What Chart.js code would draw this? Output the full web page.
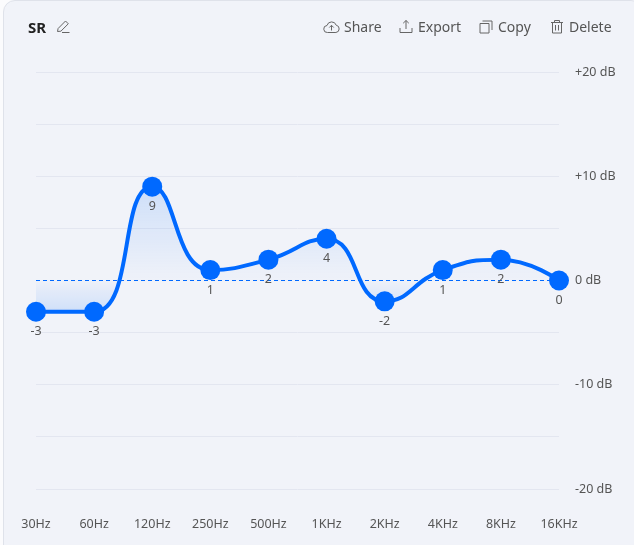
<!DOCTYPE html>
<html>
<head>
<meta charset="utf-8">
<title>SR</title>
<script src="https://cdn.jsdelivr.net/npm/chart.js@4"></script>
<style>
  html, body { margin: 0; padding: 0; background: #fbfbfd; overflow: hidden; }
  body { width: 634px; height: 545px; position: relative; font-family: "Noto Sans", sans-serif; }
  .card { position: absolute; left: 3px; top: 0; width: 640px; height: 560px; box-sizing: border-box;
          background: #f1f3f9; border: 1px solid #dfe2ea; border-radius: 12px; }
  canvas { position: absolute; left: 0; top: 0; }
  .title { position: absolute; left: 28px; top: 16px; font-size: 15px; line-height: 22px; font-weight: 700; color: #222; }
  .action { position: absolute; top: 16px; font-size: 14px; line-height: 22px; color: #555; white-space: nowrap; }
  svg { position: absolute; fill: none; stroke: #666; stroke-width: 1; }
</style>
</head>
<body>
<div class="card"></div>
<canvas id="eq-chart" width="634" height="545"></canvas>

<div class="title">SR</div>
<svg style="left:56px;top:19px" width="15" height="15" viewBox="0 0 15 15"><path d="M1.500 12.500l.6-3L9.500 2l2.800 2.800-7.400 7.400zM6 13.500h7.500"/></svg>

<svg style="left:323px;top:19px" width="17" height="15" viewBox="0 0 17 15"><path d="M4.500 13.500a3.500 3.500 0 0 1-.5-7 4.800 4.800 0 0 1 9.200-.3 3.700 3.700 0 0 1-.3 7.300zM8.500 11.500V6.500M6.300 8.500l2.200-2.200 2.200 2.200"/></svg>
<div class="action" style="left:344px">Share</div>

<svg style="left:399px;top:19px" width="14" height="15" viewBox="0 0 14 15"><path d="M7 10V1.500M4.200 4.200L7 1.500l2.800 2.700M1 9v4.500h12V9"/></svg>
<div class="action" style="left:418px">Export</div>

<svg style="left:479px;top:19px" width="14" height="15" viewBox="0 0 14 15"><path d="M1 4.500h9v9.500H1zM3.500 2h9.500v9"/></svg>
<div class="action" style="left:498px">Copy</div>

<svg style="left:550px;top:19px" width="14" height="15" viewBox="0 0 14 15"><path d="M1 3.500h12M4.500 3.500V1.500h5v2M2.500 3.500v10.500h9V3.500M5.500 6v5.500M8.500 6v5.500"/></svg>
<div class="action" style="left:569px">Delete</div>

<script>
// valores
const bands = ['30Hz', '60Hz', '120Hz', '250Hz', '500Hz', '1KHz', '2KHz', '4KHz', '8KHz', '16KHz'];
const gains = [-3, -3, 9, 1, 2, 4, -2, 1, 2, 0];
const dbLabels = { 20: '+20 dB', 10: '+10 dB', 0: '0 dB', '-10': '-10 dB', '-20': '-20 dB' };

const tickFont = { family: '"Noto Sans", sans-serif', size: 12.5 };
const blue = '#0069ff';
const smooth = 0.5;

function fillGradient(context) {
    const { chart } = context;
    const y = chart.scales.y;
    if (!chart.chartArea || !y) return 'transparent';
    const top = y.getPixelForValue(Math.max(...gains));
    const bottom = y.getPixelForValue(Math.min(...gains));
    const zero = y.getPixelForValue(0);
    if (!isFinite(top) || !isFinite(bottom)) return 'transparent';
    const stop = (zero - top) / (bottom - top);
    const gradient = chart.ctx.createLinearGradient(0, top, 0, bottom);
    gradient.addColorStop(0, 'rgba(0, 105, 255, 0.14)');
    gradient.addColorStop(stop * 0.9, 'rgba(0, 105, 255, 0.02)');
    gradient.addColorStop(stop, 'rgba(0, 105, 255, 0.01)');
    gradient.addColorStop(1, 'rgba(0, 105, 255, 0.14)');
    return gradient;
}

const clampTo = (v, a, b) => Math.max(Math.min(a, b), Math.min(v, Math.max(a, b)));

// la curva original tiene asas mas largas que 'monotone': se recalculan
// los puntos de control a partir de la posicion de cada punto
const curveShape = {
    id: 'curveShape',
    afterDatasetsUpdate(chart) {
        const meta = chart.getDatasetMeta(0);
        meta.dataset.updateControlPoints(chart.chartArea, 'x');
        const pts = meta.data;
        pts.forEach((p, i) => {
            const prev = pts[i - 1], next = pts[i + 1];
            if (!prev || !next) {
                p.cp1x = p.cp2x = p.x;
                p.cp1y = p.cp2y = p.y;
                return;
            }
            const lenPrev = Math.hypot(p.x - prev.x, p.y - prev.y);
            const lenNext = Math.hypot(next.x - p.x, next.y - p.y);
            const ratio = lenNext / (lenNext + lenPrev);
            const vx = next.x - prev.x, vy = next.y - prev.y;
            // salida, limitada al tramo siguiente
            let outX = clampTo(p.x + vx * smooth * ratio, p.x, next.x);
            let outY = clampTo(p.y + vy * smooth * ratio, p.y, next.y);
            // entrada, en la misma recta
            let inX = clampTo(p.x - (outX - p.x) * lenPrev / lenNext, prev.x, p.x);
            let inY = clampTo(p.y - (outY - p.y) * lenPrev / lenNext, prev.y, p.y);
            // se reajusta la salida por si la entrada quedo limitada
            outX = p.x + (p.x - inX) * lenNext / lenPrev;
            outY = p.y + (p.y - inY) * lenNext / lenPrev;
            p.cp1x = inX; p.cp1y = inY;
            p.cp2x = outX; p.cp2y = outY;
        });
    }
};

// etiqueta con el valor debajo de cada punto
const valueLabels = {
    id: 'valueLabels',
    afterDatasetsDraw(chart) {
        const { ctx } = chart;
        ctx.save();
        ctx.font = '12.5px "Noto Sans", sans-serif';
        ctx.fillStyle = '#555';
        ctx.textAlign = 'center';
        ctx.textBaseline = 'middle';
        chart.getDatasetMeta(0).data.forEach((point, i) => {
            ctx.fillText(String(gains[i]), point.x, point.y + 20);
        });
        ctx.restore();
    }
};

new Chart(document.getElementById('eq-chart').getContext('2d'), {
    type: 'line',
    data: {
        labels: bands,
        datasets: [{
            data: gains,
            borderColor: blue,
            borderWidth: 4,
            backgroundColor: fillGradient,
            fill: { target: { value: 0 } },
            cubicInterpolationMode: 'monotone',
            pointRadius: 10,
            pointBackgroundColor: blue,
            pointBorderColor: blue,
            pointBorderWidth: 0,
            clip: false
        }]
    },
    options: {
        responsive: false,
        animation: false,
        layout: { padding: { left: 36, top: 72, right: 0, bottom: 0 } },
        plugins: { legend: { display: false }, tooltip: { enabled: false } },
        scales: {
            x: {
                offset: false,
                grid: { display: false },
                border: { display: false },
                ticks: { color: '#555', font: tickFont, padding: 20, autoSkip: false, maxRotation: 0 },
                afterFit: (scale) => { scale.height = 56; }
            },
            y: {
                position: 'right',
                min: -20,
                max: 20,
                grid: {
                    drawTicks: false,
                    color: (c) => c.tick.value === 0 ? blue : '#e3e6f0'
                },
                border: { display: false, dash: (c) => c.tick && c.tick.value === 0 ? [4, 3] : [] },
                ticks: {
                    stepSize: 5,
                    autoSkip: false,
                    color: '#555',
                    font: tickFont,
                    padding: 16,
                    crossAlign: 'near',
                    callback: (value) => dbLabels[value] ?? ''
                },
                afterFit: (scale) => { scale.width = 75; }
            }
        }
    },
    plugins: [curveShape, valueLabels]
});
</script>
</body>
</html>
